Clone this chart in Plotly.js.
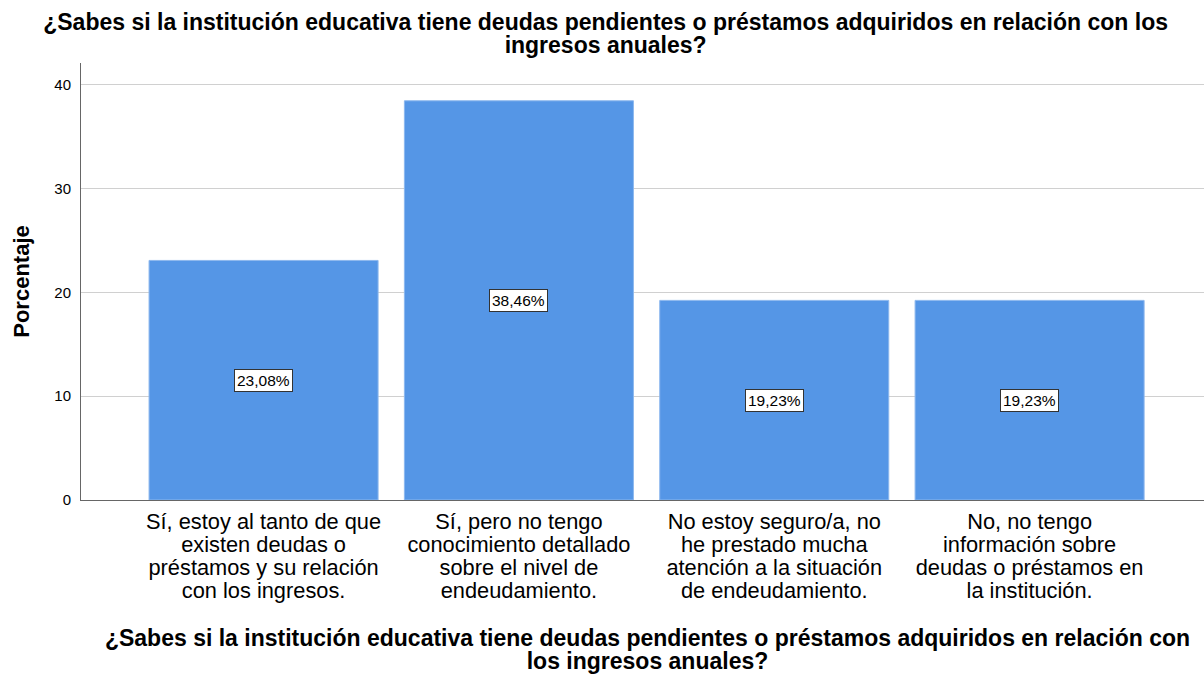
<!DOCTYPE html>
<html>
<head>
<meta charset="utf-8">
<script src="https://cdn.plot.ly/plotly-3.0.1.min.js"></script>
<style>html,body{margin:0;padding:0;background:#fff;}#chart{width:1204px;height:675px;}</style>
</head>
<body>
<div id="chart"></div>
<script>
const categories = [
  "Sí, estoy al tanto de que<br>existen deudas o<br>préstamos y su relación<br>con los ingresos.",
  "Sí, pero no tengo<br>conocimiento detallado<br>sobre el nivel de<br>endeudamiento.",
  "No estoy seguro/a, no<br>he prestado mucha<br>atención a la situación<br>de endeudamiento.",
  "No, no tengo<br>información sobre<br>deudas o préstamos en<br>la institución."
];
const percentages = [23.08, 38.46, 19.23, 19.23];
const valueLabels = ["23,08%", "38,46%", "19,23%", "19,23%"];
const yTicks = [0, 10, 20, 30, 40];
const titleText = "¿Sabes si la institución educativa tiene deudas pendientes o préstamos adquiridos en relación con los<br>ingresos anuales?";
const xTitleText = "¿Sabes si la institución educativa tiene deudas pendientes o préstamos adquiridos en relación con<br>los ingresos anuales?";

const positions = categories.map((c, i) => i);
const FONT = "Liberation Sans, Arial, sans-serif";

const trace = {
  type: "bar",
  x: positions,
  y: percentages,
  width: 0.897,
  marker: {color: "#5596E6", line: {color: "#8DB8EE", width: 1}},
  hoverinfo: "skip"
};

const annotations = percentages.map((v, i) => ({
  x: positions[i],
  y: v / 2,
  xref: "x",
  yref: "y",
  text: valueLabels[i],
  showarrow: false,
  font: {family: FONT, size: 15.5, color: "#000"},
  bgcolor: "#ffffff",
  bordercolor: "#333333",
  borderwidth: 1,
  borderpad: 2
}));

const layout = {
  width: 1204,
  height: 675,
  margin: {l: 81, r: 0, t: 63, b: 175},
  paper_bgcolor: "#ffffff",
  plot_bgcolor: "#ffffff",
  showlegend: false,
  title: {
    text: titleText,
    font: {family: FONT, size: 23, color: "#000", weight: "bold"},
    x: 0.503,
    xanchor: "center",
    xref: "container",
    y: 1 - 30 / 675,
    yanchor: "top",
    yref: "container"
  },
  xaxis: {
    range: [-0.715, 3.683],
    tickvals: positions,
    ticktext: categories,
    tickfont: {family: FONT, size: 21.8, color: "#000"},
    ticks: "outside",
    ticklen: 2,
    tickcolor: "rgba(0,0,0,0)",
    showgrid: false,
    zeroline: false,
    showline: true,
    linecolor: "#666666",
    linewidth: 1,
    fixedrange: true,
    title: {
      text: xTitleText,
      font: {family: FONT, size: 23, color: "#000", weight: "bold"},
      standoff: 16
    },
    automargin: false
  },
  yaxis: {
    range: [0, 42.1],
    tickvals: yTicks,
    ticktext: yTicks.map(String),
    tickfont: {family: FONT, size: 15, color: "#000"},
    ticks: "outside",
    ticklen: 6,
    tickcolor: "rgba(0,0,0,0)",
    showgrid: true,
    gridcolor: "#d0d0d0",
    gridwidth: 1,
    zeroline: false,
    showline: true,
    linecolor: "#666666",
    linewidth: 1,
    fixedrange: true,
    title: {
      text: "Porcentaje",
      font: {family: FONT, size: 22, color: "#000", weight: "bold"},
      standoff: 18
    },
    automargin: false
  },
  annotations: annotations
};

function tightenLines(selector, emStep) {
  document.querySelectorAll(selector).forEach(t => {
    const lines = t.querySelectorAll("tspan.line");
    lines.forEach((ln, i) => ln.setAttribute("dy", (i * emStep) + "em"));
  });
}

function shiftText(selector, dx, dy) {
  document.querySelectorAll(selector).forEach(t => {
    const prev = t.getAttribute("transform") || "";
    t.setAttribute("transform", "translate(" + dx + "," + dy + ") " + prev);
  });
}

Plotly.newPlot("chart", [trace], layout, {displayModeBar: false, staticPlot: true}).then(() => {
  tightenLines(".xtick text", 1.06);
  tightenLines("text.gtitle", 0.99);
  tightenLines("text.xtitle", 0.99);
  shiftText("text.xtitle", 5, 6);
});
</script>
</body>
</html>
